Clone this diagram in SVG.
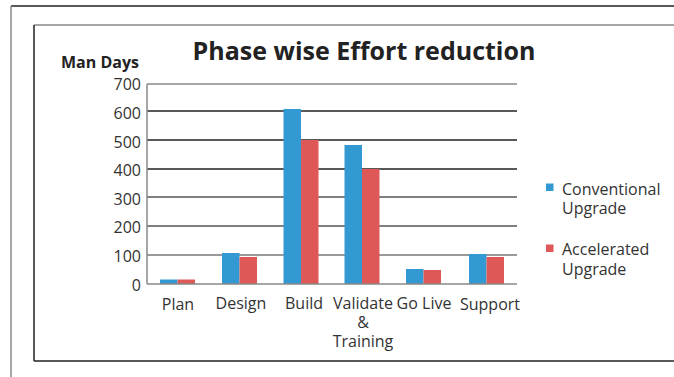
<svg xmlns="http://www.w3.org/2000/svg" width="674" height="377" viewBox="0 0 674 377">
<style>
.t{font-family:"Open Sans","Noto Sans","Liberation Sans",sans-serif;fill:#333;font-size:16px}
.b{font-weight:bold;fill:#222}
.c{fill:#3399d3}
.r{fill:#de5858}
.g{stroke-width:1.5;fill:none}
</style>
<rect width="674" height="377" fill="#fff"/>
<g id="frame">
<line x1="11" y1="6" x2="674" y2="6" stroke="#222" stroke-width="1.5"/>
<line x1="11" y1="6" x2="11" y2="377" stroke="#888" stroke-width="1.5"/>
<line x1="34" y1="25" x2="674" y2="25" stroke="#888" stroke-width="1.5"/>
<line x1="34" y1="25" x2="34" y2="361" stroke="#222" stroke-width="1.5"/>
<line x1="34" y1="361" x2="674" y2="361" stroke="#222" stroke-width="1.5"/>
</g>
<g id="title">
<text class="t b" x="364" y="60" text-anchor="middle" style="font-size:25px">Phase wise Effort reduction</text>
<text class="t b" x="100" y="68" text-anchor="middle" style="font-size:16px">Man Days</text>
</g>
<g id="grid" class="g">
<line x1="147" y1="84" x2="517" y2="84" stroke="#888"/>
<line x1="147" y1="111" x2="517" y2="111" stroke="#222"/>
<line x1="147" y1="140" x2="517" y2="140" stroke="#222"/>
<line x1="147" y1="169" x2="517" y2="169" stroke="#222"/>
<line x1="147" y1="197" x2="517" y2="197" stroke="#555"/>
<line x1="147" y1="226" x2="517" y2="226" stroke="#555"/>
<line x1="147" y1="255" x2="517" y2="255" stroke="#777"/>
</g>
<g id="yaxis" class="t" text-anchor="end">
<text x="141" y="90">700</text>
<text x="141" y="119">600</text>
<text x="141" y="148">500</text>
<text x="141" y="176">400</text>
<text x="141" y="205">300</text>
<text x="141" y="233">200</text>
<text x="141" y="262">100</text>
<text x="141" y="291">0</text>
</g>
<g id="bars">
<rect class="c" x="160" y="279.5" width="17.5" height="4.5"/>
<rect class="r" x="177.5" y="279.5" width="17.5" height="4.5"/>
<rect class="c" x="222" y="253" width="17.5" height="31"/>
<rect class="r" x="239.5" y="257" width="17.5" height="27"/>
<rect class="c" x="283.5" y="109" width="17.5" height="175"/>
<rect class="r" x="301" y="140" width="17.5" height="144"/>
<rect class="c" x="344.5" y="145" width="17.5" height="139"/>
<rect class="r" x="362" y="169" width="17.5" height="115"/>
<rect class="c" x="406" y="269" width="17.5" height="15"/>
<rect class="r" x="423.5" y="270" width="17.5" height="14"/>
<rect class="c" x="469" y="254" width="17.5" height="30"/>
<rect class="r" x="486.5" y="257" width="17.5" height="27"/>
</g>
<g id="axes" class="g">
<line x1="147" y1="84" x2="147" y2="284" stroke="#888"/>
<line x1="147" y1="284" x2="517" y2="284" stroke="#888"/>
</g>
<g id="xaxis" class="t" text-anchor="middle">
<text x="178" y="310">Plan</text>
<text x="241" y="309">Design</text>
<text x="304" y="309">Build</text>
<text x="363" y="309">Validate<tspan x="363" dy="19">&amp;</tspan><tspan x="363" dy="19">Training</tspan></text>
<text x="424" y="309">Go Live</text>
<text x="490" y="310">Support</text>
</g>
<g id="legend" class="t">
<rect class="c" x="546" y="183.5" width="7.5" height="7.5"/>
<text x="562" y="195">Conventional<tspan x="562" dy="19">Upgrade</tspan></text>
<rect class="r" x="546" y="244.5" width="7.5" height="7.5"/>
<text x="562" y="255">Accelerated<tspan x="562" dy="20">Upgrade</tspan></text>
</g>
</svg>
